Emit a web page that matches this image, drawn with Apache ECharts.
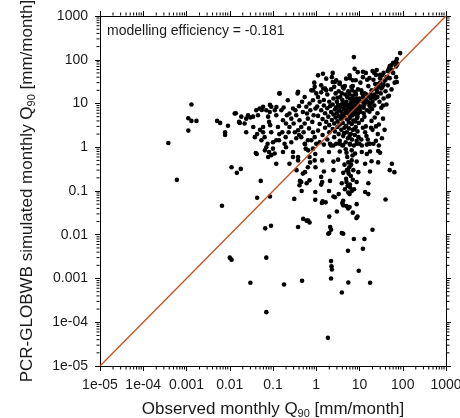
<!DOCTYPE html>
<html>
<head>
<meta charset="utf-8">
<script src="https://cdn.jsdelivr.net/npm/echarts@6/dist/echarts.min.js"></script>
<style>html,body{margin:0;padding:0;background:#fff;}#chart{width:460px;height:418px;}</style>
</head>
<body>
<div id="chart"></div>
<script>
// ---- data (observed Q90, simulated Q90) in mm/month ----
const tickLabels = ['1e-05','1e-04','0.001','0.01','0.1','1','10','100','1000'];
const minorMultipliers = [2,3,4,5,6,7,8,9];
const diagonalLine = [[1e-5,1e-5],[1000,1000]];
const efficiencyText = 'modelling efficiency = -0.181';

const sparsePoints = [
 [0.00038,1.25],[0.0006,0.18],[0.0013,9.5],[0.0011,4.6],[0.0013,4.0],[0.0017,4.0],[0.0011,2.4],
 [0.0051,4.0],[0.006,3.6],[0.0091,3.1],[0.0078,2.2],[0.0078,1.9],
 [0.011,0.35],[0.0146,0.26],[0.018,0.32],[0.0066,0.046],[0.010,0.0030],[0.011,0.0027],
 [0.03,0.0008],[0.042,0.7],[0.052,0.17],[0.043,0.07],[0.066,0.014],[0.09,0.016],[0.07,0.003],[0.07,0.00017],[0.085,0.075],
 [0.18,0.00073],[0.31,0.066],[0.38,0.015],[0.47,0.00089],[0.5,0.023],[0.6,0.021],[0.65,0.021],[0.95,0.063],[1.4,0.058],
 [1.3,0.21],[1.3,0.14],[1.86,0.000044],[2,0.026],[2.0,0.011],[2.1,0.015],[1.9,0.0105],[2.2,0.013],[2.2,0.0025],[2.25,0.0019],
 [2.3,0.0016],[2.2,0.001],[3.9,0.00048],[3.9,0.011],[5.4,0.0043],[5.5,0.00081],[7.4,0.008],[9.6,0.0015],[13,0.008],[12,0.0048],
 [17.6,0.0008],[20,0.013],[40,0.064],[50,0.3],[64,0.27],[5,0.045],[5.5,0.04],[9,0.026],[7,0.032],[4,0.053],[2.5,0.075],[3.3,0.085],
 [0.7,0.019],[4.2,0.0105],[3.0,0.034],[4.2,0.047],[5.9,0.043],[8.5,0.024],[2.7,0.072],[1.35,0.053]
];
const lowObservedPoints = [
 [0.013,5.9],[0.0164,3.8],[0.022,3.5],[0.0265,5.4],[0.030,4.8],[0.024,2.2],[0.0345,5.0],[0.041,7.0],[0.049,7.7],[0.045,5.4],
 [0.059,8.4],[0.038,1.7],[0.043,2.0],[0.059,2.2],[0.064,1.7],[0.054,1.45],[0.070,7.0],[0.084,6.4],[0.091,8.4],[0.077,5.0],
 [0.081,3.8],[0.086,3.2],[0.070,1.0],[0.081,0.78],[0.091,0.66],[0.077,0.6],[0.1,0.93],[0.109,0.72],[0.119,0.42],[0.17,0.78],
 [0.119,1.45],[0.14,2.0],[0.091,2.2],[0.059,2.9],[0.035,2.9],[0.024,4.5],[0.0185,5.0],[0.0138,6.0],[0.017,3.6],[0.055,7.1],
 [0.085,9.3],[0.12,8.3],[0.14,17],[0.04,0.74],[0.05,2.5],[0.1,1.3],[0.075,1.2],[0.065,0.85]
];
const midObservedPoints = [
 [0.143,17],[0.22,11.9],[0.29,7.7],[0.38,18.5],[0.24,5.9],[0.345,5.4],[0.41,4.15],[0.49,6.4],[0.59,8.4],[0.70,10],
 [0.84,11.9],[0.77,20],[0.92,24],[0.64,4.5],[0.54,3.5],[0.45,2.9],[0.38,2.45],[0.32,2.2],[0.24,2.9],[0.20,3.5],
 [0.17,4.15],[0.156,7.0],[0.119,5.4],[0.13,2.9],[0.196,1.7],[0.265,1.3],[0.345,1.6],[0.45,1.7],[0.54,1.2],[0.64,1.45],
 [0.84,2.2],[0.92,1.7],[1.0,1.2],[0.20,1.0],[0.29,0.78],[0.38,0.6],[0.57,0.93],[0.70,0.6],[0.92,0.5],[0.96,0.35],
 [0.64,0.35],[0.70,0.175],[0.45,0.16],[0.41,0.135],[0.49,0.25],[0.24,0.42],[0.29,0.6],
 [0.11,7],[0.176,8.1],[0.21,5.4],[0.265,4.5],[0.33,7.0],[0.40,8.7],[0.47,11],[0.54,14],[0.61,5.9],[0.73,7],[0.87,5.4],
 [0.96,7.7],[0.81,3.8],[0.68,2.7],[0.51,2.2],[0.40,1.9],[0.30,3.5],[0.23,2.2],[0.164,2.2],[0.138,1.45],[0.185,1.2],
 [0.84,0.93],[0.77,1.45],[0.37,17],[0.85,20],[0.9,30],[1.1,44],[1.3,26]
];
const highFlowUpperPoints = [
 [2.4,50],[2.3,40],[2.7,31],[3.5,30],[6,38],[8.2,34],[4.6,25],[7,25],[1.45,22],[1.7,20],[1.0,17],
 [1.43,48],[1.7,37],[2.4,31],[2.9,34],[3.45,28],[4.1,24],[5.9,44],[7.0,34],[4.9,37],[9.1,52],[7.7,62],[7.4,115],
 [1.1,14],[1.3,18],[1.5,12],[1.8,16],[2.0,11],[2.2,21],[2.5,13],[2.8,17],[3.0,11],[3.3,19],[3.6,14],[4.0,12],[4.3,22],
 [4.7,16],[5.0,11],[5.5,19],[6.0,13],[6.5,24],[7.0,15],[7.5,11],[8.0,18],[8.6,13],[9.2,21],[9.6,12],[1.2,11],[2.6,24],
 [3.9,17],[5.2,14],[6.8,20],[8.3,16],[9.0,10.5],[4.5,10.5],[1.6,22],[5.8,16.5],[7.2,12.5],[3.1,13.5],
 [1.05,8.5],[1.1,5.2],[1.2,3.4],[1.3,7.0],[1.4,4.4],[1.5,9.0],[1.6,6.0],[1.7,3.8],[1.8,7.8],[1.9,5.0],[2.0,3.2],[2.1,8.8],
 [2.2,6.4],[2.3,4.2],[2.4,9.5],[2.5,5.6],[2.6,3.5],[2.7,7.3],[2.8,4.8],[2.9,8.2],[3.0,6.0],[3.1,3.9],[3.2,9.2],[3.3,5.1],
 [3.4,7.0],[3.5,3.3],[3.6,8.4],[3.7,4.5],[3.8,6.5],[3.9,9.6],[4.0,5.4],[4.1,3.6],[4.3,7.6],[4.4,4.9],[4.6,8.9],[4.7,6.1],
 [4.9,3.1],[5.0,7.1],[5.2,4.3],[5.3,9.3],[5.5,5.8],[5.7,3.7],[5.8,7.9],[6.0,4.7],[6.2,6.7],[6.4,9.8],[6.6,3.4],[6.8,5.3],
 [7.0,8.1],[7.2,4.1],[7.4,6.3],[7.7,9.1],[7.9,3.9],[8.1,5.7],[8.4,7.4],[8.7,4.6],[9.0,8.6],[9.3,6.0],[9.6,3.6],[9.9,7.2],
 [1.1,2.4],[1.2,1.3],[1.4,1.9],[1.6,2.8],[1.8,1.5],[2.0,2.2],[2.2,1.1],[2.4,2.6],[2.6,1.7],[2.9,1.2],[3.1,2.9],[3.3,2.0],
 [3.5,1.4],[3.8,2.5],[4.0,1.1],[4.2,1.8],[4.5,2.8],[4.8,1.3],[5.1,2.2],[5.4,1.6],[5.7,2.7],[6.0,1.2],[6.3,2.0],[6.7,1.5],
 [7.0,2.5],[7.4,1.1],[7.8,1.9],[8.2,2.9],[8.6,1.4],[9.0,2.3],[9.5,1.7],[9.9,1.2],[2.7,2.3],[4.4,2.1],[5.9,1.8],[7.6,2.6]
];
const highFlowRightPoints = [
 [10.5,30],[11,20],[12,14],[12.5,8],[13,5],[14,3],[14.5,1.8],[15,11],[16,25],[17,6.5],[18,16],[19,4],[20,2.5],[21,35],
 [22,9],[23,13],[24,1.4],[25,20],[26,6],[27,28],[28,3.3],[29,11],[30,45],[31,17],[32,8],[34,24],[35,4.5],[36,13],[38,33],
 [40,19],[42,9.5],[45,26],[48,15],[50,38],[55,21],[60,50],[65,30],[11.5,4.2],[13.5,2.2],[16.5,1.2],[19.5,7.5],[22.5,4.8],
 [26.5,2.0],[11,1.5],[15.5,1.5],[18.5,2.8],[21,1.2],[12,40],[14,50],[17,38],[24,45],[20,55],[33,1.6],[28,1.1],[38,2.5],
 [24,3.0],[18,10],[13,17],[26,14],[35,9],[10.5,6.5],[12,2.8],[15,35],[45,55],[55,60],[70,70],[75,80],[87,142],[70,91],
 [55,76],[48,63],[73,104],[60,85],[50,72],[73,76],[70,40],[73,31],[42,40],[33,44],[36,50],[30,38],[25,58],[22,50],[12,53],
 [45,14.5],
 [5.5,8.5],[6.5,11],[7.5,7],[8.5,12],[9.5,9],[11,8.5],[12,11],[13,9.5],[14,12.5],[15,7],[16,15],[17,9],[18,13],[19,20],
 [20,11],[22,16],[24,22],[10,13],[11.5,17],[6,6],[7,9.5],[8,6.5],[9,5],[10,7.5],[12.5,6],[14,16.5],[16,10.5],[18,8],
 [21,14],[23,28],[26,18],[28,24],[30,30],[32,22],[36,27],[40,35],[44,40]
];
const lowSimulatedPoints = [
 [0.55,1.18],[1.5,1.15],[2.08,1.2],[2.5,1.1],[3.5,1.2],[4.2,1.12],[6.0,1.15],[8.6,1.2],[11.3,1.1],[14.8,1.15],[17.5,1.2],
 [0.65,0.85],[0.95,0.7],[1.97,0.78],[3.5,0.8],[5.0,0.75],[6.6,0.85],[7.9,0.72],[11.3,0.78],[14.8,0.7],[17.5,0.8],[27,0.82],[30,0.75],
 [0.38,0.5],[0.72,0.45],[1.37,0.5],[2.5,0.47],[3.2,0.52],[5.5,0.45],[6.6,0.5],[8.6,0.47],[13.5,0.42],[19,0.48],[27,0.45],[56,0.42],
 [0.35,0.3],[0.55,0.27],[1.5,0.28],[2.5,0.3],[4.2,0.26],[5.5,0.29],[7.2,0.3],[9.4,0.27],[17.5,0.28],
 [0.42,0.17],[0.6,0.15],[1.37,0.16],[2.08,0.17],[3.9,0.15],[5.0,0.16],[6.0,0.14],[8.6,0.16],[16,0.15],
 [0.46,0.1],[0.95,0.095],[1.97,0.1],[4.6,0.11],[5.5,0.092],[6.6,0.1],[13.5,0.095],[16,0.085],
 [1.65,0.055],[4.2,0.06],[8.6,0.05],
 [4.8,0.9],[5.2,0.6],[5.8,0.35],[6.3,0.22],[5.3,0.13],[6.1,0.12],[7.0,0.18],[4.5,0.4],[6.9,0.65],[5.6,0.25],[4.9,0.19],
 [7.5,0.11],[5.9,0.085],[6.4,0.4],[5.1,0.3]
];

const allPoints = [].concat(sparsePoints, lowObservedPoints, midObservedPoints,
  highFlowUpperPoints, highFlowRightPoints, lowSimulatedPoints);

// minor tick positions (2..9 x 10^e) on each of the four frame sides
const AXMIN = 1e-5, AXMAX = 1000;
const minorVals = [];
for (let e = -5; e < 3; e++) for (const m of minorMultipliers) minorVals.push(m * Math.pow(10, e));
const minorBottom = minorVals.map(v => [v, AXMIN]);
const minorTop = minorVals.map(v => [v, AXMAX]);
const minorLeft = minorVals.map(v => [AXMIN, v]);
const minorRight = minorVals.map(v => [AXMAX, v]);

const FONT = '"Liberation Sans", Arial, Helvetica, sans-serif';
const labelFmt = v => tickLabels[Math.round(Math.log10(v)) + 5];

const baseAxis = {
  type: 'log', logBase: 10, min: AXMIN, max: AXMAX, interval: 1,
  axisLine: { show: true, onZero: false, lineStyle: { color: '#000', width: 1 } },
  axisTick: { show: true, inside: false, length: 5, lineStyle: { color: '#000', width: 1 } },
  splitLine: { show: false },
  minorTick: { show: false }
};
const nameStyle = { fontFamily: FONT, fontSize: 17, color: '#1a1a1a', lineHeight: 20,
  rich: { sub: { fontFamily: FONT, fontSize: 11, color: '#1a1a1a', verticalAlign: 'bottom', lineHeight: 20 } } };
const tickLabelStyle = { show: true, formatter: labelFmt, margin: 12, fontFamily: FONT, fontSize: 14, color: '#1a1a1a', showMaxLabel: true, showMinLabel: true };

function minorTickSeries(data, w, h, ox, oy) {
  return { type: 'scatter', data: data, symbol: 'rect', symbolSize: [w, h], symbolOffset: [ox, oy],
    clip: false, silent: true, z: 1, itemStyle: { color: '#000', opacity: 1 } };
}

const chart = echarts.init(document.getElementById('chart'), null, { renderer: 'canvas' });
chart.setOption({
  animation: false,
  backgroundColor: '#fff',
  title: {
    text: efficiencyText, left: 107, top: 24, padding: 0,
    textStyle: { fontFamily: FONT, fontSize: 14, fontWeight: 'normal', color: '#1a1a1a' }
  },
  grid: { left: 100, right: 14, top: 16, bottom: 52, containLabel: false, outerBoundsMode: 'none' },
  xAxis: [
    Object.assign({}, baseAxis, {
      position: 'bottom',
      name: 'Observed monthly Q{sub|90} [mm/month]',
      nameLocation: 'middle', nameGap: 33, nameTextStyle: nameStyle,
      axisLabel: tickLabelStyle
    }),
    Object.assign({}, baseAxis, { position: 'top', axisLabel: { show: false } })
  ],
  yAxis: [
    Object.assign({}, baseAxis, {
      position: 'left',
      name: 'PCR-GLOBWB simulated monthly Q{sub|90} [mm/month]',
      nameLocation: 'middle', nameGap: 63, nameRotate: 90, nameTextStyle: nameStyle,
      axisLabel: tickLabelStyle
    }),
    Object.assign({}, baseAxis, { position: 'right', axisLabel: { show: false } })
  ],
  series: [
    minorTickSeries(minorBottom, 1, 3, 0, 2),
    minorTickSeries(minorTop, 1, 3, 0, -2),
    minorTickSeries(minorLeft, 3, 1, -2, 0),
    minorTickSeries(minorRight, 3, 1, 2, 0),
    {
      type: 'scatter', name: 'stations', data: allPoints, symbol: 'circle', symbolSize: 4.6,
      itemStyle: { color: '#000', opacity: 1 }, z: 2
    },
    {
      type: 'line', name: '1:1', data: diagonalLine, symbol: 'none', z: 3,
      lineStyle: { color: '#c6501f', width: 1.3 }
    }
  ]
});
</script>
</body>
</html>
